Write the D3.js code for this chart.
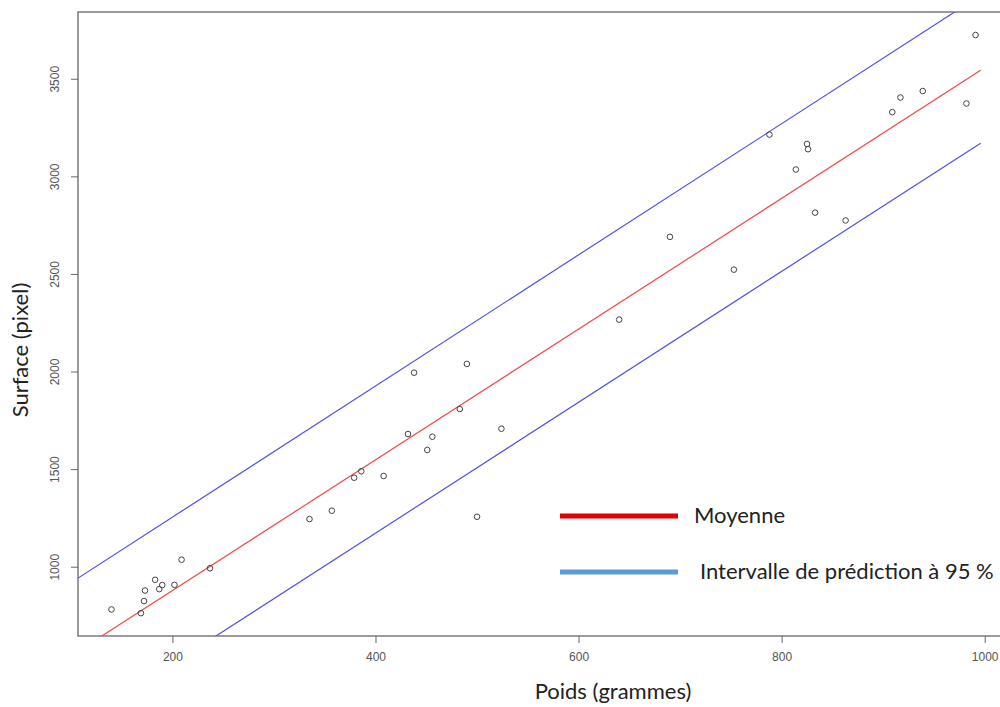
<!DOCTYPE html>
<meta charset="utf-8">
<script src="https://d3js.org/d3.v7.min.js"></script>
<style>
body { margin: 0; background: #fff; }
svg { display: block; }
.axis text { font-family: "Liberation Sans", sans-serif; font-size: 12px; fill: #555; }
.axis path, .axis line { stroke: #666; }
.lab { font-family: Lato, sans-serif; fill: #222; }
</style>
<body>
<svg id="chart" width="1000" height="707"></svg>
<script>
// poids (g) and surface (px)
var poids = [140, 169, 172, 173, 183, 187, 190, 202, 209, 237,
             335, 357, 379, 386, 408, 432, 438, 451, 456, 483,
             490, 500, 524, 640, 690, 753, 788, 814, 825, 826,
             833, 863, 909, 917, 939, 982, 991];
var surface = [781, 762, 824, 878, 933, 885, 906, 907, 1036, 992,
               1244, 1287, 1456, 1489, 1465, 1680, 1994, 1598, 1666, 1808,
               2039, 1256, 1707, 2266, 2690, 2522, 3214, 3035, 3166, 3139,
               2814, 2774, 3329, 3404, 3437, 3373, 3724];

// fitted line and 95% prediction limits (end points)
var lineX = [100, 996];
var moyenne = [543, 3543];
var borneHaute = [918, 3928];
var borneBasse = [166, 3170];

var xTicks = [200, 400, 600, 800, 1000];
var yTicks = [1000, 1500, 2000, 2500, 3000, 3500];

var legendLabels = ["Moyenne", "Intervalle de prédiction à 95 %"];
var legendColors = ["#e40000", "#5b9bd5"];

var svg = d3.select("#chart");
var plotL = 78, plotR = 1005, plotT = 12, plotB = 636;

var x = d3.scaleLinear().domain([107, 1020]).range([plotL, plotR]);
var y = d3.scaleLinear().domain([645, 3842]).range([plotB, plotT]);

svg.append("clipPath").attr("id", "plotclip")
  .append("rect")
    .attr("x", plotL).attr("y", plotT)
    .attr("width", plotR - plotL).attr("height", plotB - plotT);

// box
svg.append("rect")
  .attr("x", plotL).attr("y", plotT)
  .attr("width", plotR - plotL).attr("height", plotB - plotT)
  .attr("fill", "none").attr("stroke", "#666").attr("stroke-width", 1.3);

var xAxis = svg.append("g").attr("class", "axis")
  .attr("transform", "translate(0," + plotB + ")")
  .call(d3.axisBottom(x).tickValues(xTicks).tickSize(7).tickPadding(9).tickFormat(d3.format("d")));
xAxis.select(".domain").remove();

var yAxis = svg.append("g").attr("class", "axis")
  .attr("transform", "translate(" + plotL + ",0)")
  .call(d3.axisLeft(y).tickValues(yTicks).tickSize(7).tickPadding(0).tickFormat(d3.format("d")));
yAxis.select(".domain").remove();
yAxis.selectAll("text")
  .attr("text-anchor", "middle")
  .attr("x", 0).attr("dy", 0)
  .attr("transform", "translate(-19,0) rotate(-90)");

// lines
var lines = [
  {vals: moyenne, color: "#f04848"},
  {vals: borneHaute, color: "#5050ea"},
  {vals: borneBasse, color: "#5050ea"}
];
var lineGen = d3.line().x(function(d) { return x(d[0]); }).y(function(d) { return y(d[1]); });
svg.append("g").attr("clip-path", "url(#plotclip)")
  .selectAll("path")
  .data(lines)
  .enter().append("path")
    .attr("d", function(d) { return lineGen(lineX.map(function(v, i) { return [v, d.vals[i]]; })); })
    .attr("fill", "none")
    .attr("stroke", function(d) { return d.color; })
    .attr("stroke-width", 1.2);

// points
svg.append("g")
  .selectAll("circle")
  .data(poids)
  .enter().append("circle")
    .attr("cx", function(d) { return x(d); })
    .attr("cy", function(d, i) { return y(surface[i]); })
    .attr("r", 2.8)
    .attr("fill", "none")
    .attr("stroke", "#444")
    .attr("stroke-width", 1);

// axis titles
svg.append("text").attr("class", "lab")
  .attr("x", 613).attr("y", 699)
  .attr("text-anchor", "middle")
  .style("font-size", "22px")
  .text("Poids (grammes)");

svg.append("text").attr("class", "lab")
  .attr("transform", "translate(28,350) rotate(-90)")
  .attr("text-anchor", "middle")
  .style("font-size", "22px")
  .text("Surface (pixel)");

// legend
var leg = svg.append("g").selectAll("g")
  .data(legendLabels)
  .enter().append("g")
    .attr("transform", function(d, i) { return "translate(560," + (516 + i * 56) + ")"; });
leg.append("line")
  .attr("x1", 0).attr("x2", 118)
  .attr("stroke", function(d, i) { return legendColors[i]; })
  .attr("stroke-width", 5);
leg.append("text").attr("class", "lab")
  .attr("x", function(d, i) { return i === 0 ? 134 : 140; })
  .attr("y", 7)
  .style("font-size", "22px")
  .text(function(d) { return d; });
</script>
</body>
